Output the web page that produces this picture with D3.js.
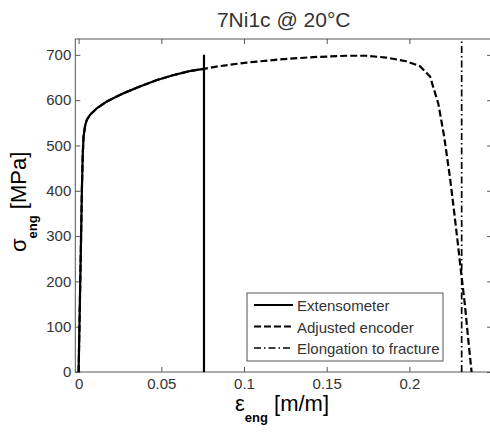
<!DOCTYPE html>
<html><head><meta charset="utf-8">
<script src="https://cdn.jsdelivr.net/npm/d3@7"></script>
<style>body{margin:0;background:#fff}svg{display:block}text{font-family:Arial,"Liberation Sans",sans-serif}</style>
</head><body>
<script>
const title = "7Ni1c @ 20°C";
const xTicks = [0, 0.05, 0.1, 0.15, 0.2];
const yTicks = [0, 100, 200, 300, 400, 500, 600, 700];
const legendLabels = ["Extensometer", "Adjusted encoder", "Elongation to fracture"];
// Extensometer curve (strain, stress)
const extStrain = [0, 0.0005, 0.001, 0.0015, 0.002, 0.0025, 0.003, 0.004, 0.005, 0.007, 0.011, 0.017, 0.027, 0.037, 0.047, 0.057, 0.067, 0.0755];
const extStress = [0, 100, 200, 300, 405, 480, 520, 545, 557, 568, 582, 597, 615, 630, 644, 655, 664, 669];
const extCutStrain = 0.0758, extCutTop = 700;
// Adjusted encoder curve
const encStrain = [0, 0.0005, 0.001, 0.0015, 0.002, 0.0025, 0.003, 0.004, 0.005, 0.007, 0.011, 0.017, 0.027, 0.037, 0.047, 0.057, 0.067, 0.0755, 0.085, 0.1016, 0.1218, 0.1418, 0.162, 0.174, 0.186, 0.198, 0.2064, 0.2125, 0.2175, 0.221, 0.2245, 0.227, 0.2294, 0.2312, 0.2335, 0.2355, 0.2376];
const encStress = [0, 100, 200, 300, 405, 480, 520, 545, 557, 568, 582, 597, 615, 630, 644, 655, 664, 669, 675, 683, 690, 695, 698, 698, 694, 686, 675, 652, 592, 520, 430, 355, 280, 222, 150, 75, 0];
const fractureStrain = 0.2316;

const W = 490, H = 432;
const svg = d3.select("body").append("svg").attr("width", W).attr("height", H);
const L = 75.3, R = 492.1, T = 39, B = 372;
const x = d3.scaleLinear().domain([-0.002, 0.25]).range([L, R]);
const y = d3.scaleLinear().domain([0, 735]).range([B, T]);
const axCol = "#555", txtCol = "#333";

svg.append("rect").attr("x", L).attr("y", T).attr("width", R - L).attr("height", B - T)
  .attr("fill", "#fff").attr("stroke", axCol).attr("stroke-width", 1);

function styleAxis(g) {
  g.select(".domain").remove();
  g.selectAll("line").attr("stroke", axCol);
  g.selectAll("text").attr("fill", txtCol).attr("font-size", 15).attr("font-family", "Arial, 'Liberation Sans', sans-serif");
}
svg.append("g").attr("transform", `translate(0,${B})`)
  .call(d3.axisBottom(x).tickValues(xTicks).tickFormat(d => String(d)).tickSizeInner(-5).tickSizeOuter(0).tickPadding(6))
  .call(styleAxis);
svg.append("g").attr("transform", `translate(0,${T})`)
  .call(d3.axisTop(x).tickValues(xTicks).tickFormat("").tickSizeInner(-5).tickSizeOuter(0))
  .call(styleAxis);
svg.append("g").attr("transform", `translate(${L},0)`)
  .call(d3.axisLeft(y).tickValues(yTicks).tickFormat(d => String(d)).tickSizeInner(-5).tickSizeOuter(0).tickPadding(4))
  .call(styleAxis);
svg.append("g").attr("transform", `translate(${R},0)`)
  .call(d3.axisRight(y).tickValues(yTicks).tickFormat("").tickSizeInner(-5).tickSizeOuter(0))
  .call(styleAxis);

const clip = svg.append("clipPath").attr("id", "c").append("rect")
  .attr("x", L).attr("y", T).attr("width", R - L).attr("height", B - T);
const plot = svg.append("g").attr("clip-path", "url(#c)");
const line = d3.line().x(d => x(d[0])).y(d => y(d[1]));

const enc = encStrain.map((s, i) => [s, encStress[i]]);
const ext = extStrain.map((s, i) => [s, extStress[i]]);
plot.append("path").datum(enc).attr("d", line).attr("fill", "none").attr("stroke", "#000")
  .attr("stroke-width", 2.2).attr("stroke-dasharray", "7,3");
plot.append("path").datum([[fractureStrain, 0], [fractureStrain, 735]]).attr("d", line).attr("fill", "none")
  .attr("stroke", "#000").attr("stroke-width", 1.7).attr("stroke-dasharray", "7,3,1.5,3");
plot.append("path").datum(ext).attr("d", line).attr("fill", "none").attr("stroke", "#000").attr("stroke-width", 2.2);
plot.append("path").datum([[extCutStrain, 0], [extCutStrain, extCutTop]]).attr("d", line).attr("fill", "none")
  .attr("stroke", "#000").attr("stroke-width", 2.2);

// title
svg.append("text").attr("x", (L + R) / 2).attr("y", 27).attr("text-anchor", "middle")
  .attr("font-size", 21).attr("fill", txtCol).text(title);

// x label
const xl = svg.append("text").attr("x", 235).attr("y", 411).attr("font-size", 22).attr("fill", "#000");
xl.append("tspan").text("ε");
xl.append("tspan").attr("dy", 11).attr("font-size", 13).attr("font-weight", "bold").text("eng");
xl.append("tspan").attr("dy", -11).text(" [m/m]");

// y label
const yl = svg.append("text").attr("transform", "translate(26,252) rotate(-90)").attr("font-size", 22).attr("fill", "#000");
yl.append("tspan").text("σ");
yl.append("tspan").attr("dy", 11).attr("font-size", 13).attr("font-weight", "bold").text("eng");
yl.append("tspan").attr("dy", -11).text(" [MPa]");

// legend
const lg = svg.append("g");
lg.append("rect").attr("x", 247).attr("y", 293).attr("width", 196).attr("height", 68)
  .attr("fill", "#fff").attr("stroke", axCol);
const dashes = [null, "7,3", "7,3,1.5,3"];
const widths = [2.2, 2.2, 1.7];
legendLabels.forEach((lab, i) => {
  const yy = 305 + i * 21.5;
  lg.append("line").attr("x1", 254).attr("x2", 293).attr("y1", yy).attr("y2", yy)
    .attr("stroke", "#000").attr("stroke-width", widths[i]).attr("stroke-dasharray", dashes[i]);
  lg.append("text").attr("x", 297).attr("y", yy + 6).attr("font-size", 15).attr("fill", txtCol).text(lab);
});
</script>
</body></html>
